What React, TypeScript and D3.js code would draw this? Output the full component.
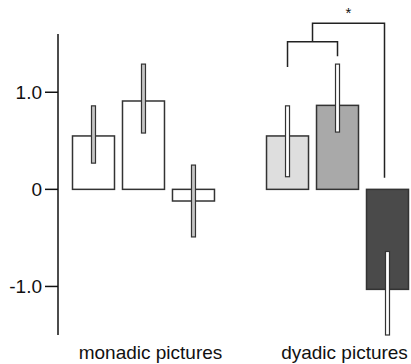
import React from "react";
import * as d3 from "d3";

const groups = ["monadic pictures", "dyadic pictures"];
const conditions = ["c1", "c2", "c3"];

const monadicMeans = [0.55, 0.91, -0.12];
const monadicLow = [0.27, 0.58, -0.49];
const monadicHigh = [0.86, 1.29, 0.25];

const dyadicMeans = [0.55, 0.865, -1.03];
const dyadicLow = [0.13, 0.59, -1.5];
const dyadicHigh = [0.86, 1.29, -0.64];

const yTicks = [-1, 0, 1];
const yTickLabels = ["-1.0", "0", "1.0"];

// significance bracket levels (data units): inner top, inner left leg, inner right leg, outer top, outer right leg
const bracketLevels = [1.52, 1.26, 1.37, 1.71, 0.12];

const W = 411;
const H = 364;
const font = "'Liberation Sans', Arial, Helvetica, sans-serif";

export default function App() {
  const y = d3.scaleLinear().domain([-1.5, 1.6]).range([335, 34]);
  const xGroup = d3.scaleBand().domain(groups).range([68.5, 412.5]).paddingInner(0.227);
  const xBar = d3
    .scaleBand()
    .domain(conditions)
    .range([0, xGroup.bandwidth()])
    .paddingInner(0.16)
    .paddingOuter(0.08);

  const series = [
    { group: groups[0], means: monadicMeans, low: monadicLow, high: monadicHigh, fills: ["#fff", "#fff", "#fff"], errFill: "#c4c4c4" },
    { group: groups[1], means: dyadicMeans, low: dyadicLow, high: dyadicHigh, fills: ["#dedede", "#a9a9a9", "#4a4a4a"], errFill: "#fff" },
  ];

  const barX = (g: string, c: string) => (xGroup(g) as number) + (xBar(c) as number);
  const barC = (g: string, c: string) => barX(g, c) + xBar.bandwidth() / 2;

  const axisX = 58;
  const errW = 4;

  // bracket geometry
  const g2 = groups[1];
  const b1 = barC(g2, conditions[0]);
  const b2 = barC(g2, conditions[1]);
  const b3 = barC(g2, conditions[2]) - 3;
  const bMid = (b1 + b2) / 2;
  const [innerTop, leftLeg, rightLeg, outerTop, outerLeg] = bracketLevels;
  const bracketPath = d3.path();
  bracketPath.moveTo(b1, y(leftLeg));
  bracketPath.lineTo(b1, y(innerTop));
  bracketPath.lineTo(b2, y(innerTop));
  bracketPath.lineTo(b2, y(rightLeg));
  bracketPath.moveTo(bMid, y(innerTop));
  bracketPath.lineTo(bMid, y(outerTop));
  bracketPath.lineTo(b3, y(outerTop));
  bracketPath.lineTo(b3, y(outerLeg));

  return (
    <svg width={W} height={H} style={{ position: "absolute", left: 0, top: 0, background: "#fff" }} fontFamily={font}>
      {/* y axis */}
      <line x1={axisX} x2={axisX} y1={y(1.6)} y2={y(-1.5)} stroke="#111" strokeWidth={1.5} />
      {yTicks.map((t, i) => (
        <g key={t}>
          <line x1={axisX - 13} x2={axisX} y1={y(t)} y2={y(t)} stroke="#111" strokeWidth={1.5} />
          <text x={axisX - 16} y={y(t)} dy="0.36em" textAnchor="end" fontSize={19} fill="#111">
            {yTickLabels[i]}
          </text>
        </g>
      ))}

      {/* bars */}
      {series.map((s) =>
        conditions.map((c, i) => {
          const v = s.means[i];
          const top = y(Math.max(0, v));
          const h = Math.abs(y(v) - y(0));
          return (
            <rect
              key={s.group + c}
              x={barX(s.group, c)}
              y={top}
              width={xBar.bandwidth()}
              height={h}
              fill={s.fills[i]}
              stroke="#333"
              strokeWidth={1.5}
            />
          );
        })
      )}

      {/* error bars */}
      {series.map((s) =>
        conditions.map((c, i) => (
          <rect
            key={"e" + s.group + c}
            x={barC(s.group, c) - errW / 2}
            y={y(s.high[i])}
            width={errW}
            height={y(s.low[i]) - y(s.high[i])}
            fill={s.errFill}
            stroke="#333"
            strokeWidth={1.2}
          />
        ))
      )}

      {/* significance bracket */}
      <path d={bracketPath.toString()} fill="none" stroke="#222" strokeWidth={1.5} />
      <text x={(bMid + b3) / 2} y={y(outerTop) - 5} textAnchor="middle" fontSize={15} fill="#111">
        *
      </text>

      {/* group labels */}
      {groups.map((g) => (
        <text key={g} x={(xGroup(g) as number) + xGroup.bandwidth() / 2 + 7} y={359} textAnchor="middle" fontSize={19} fill="#111">
          {g}
        </text>
      ))}
    </svg>
  );
}
